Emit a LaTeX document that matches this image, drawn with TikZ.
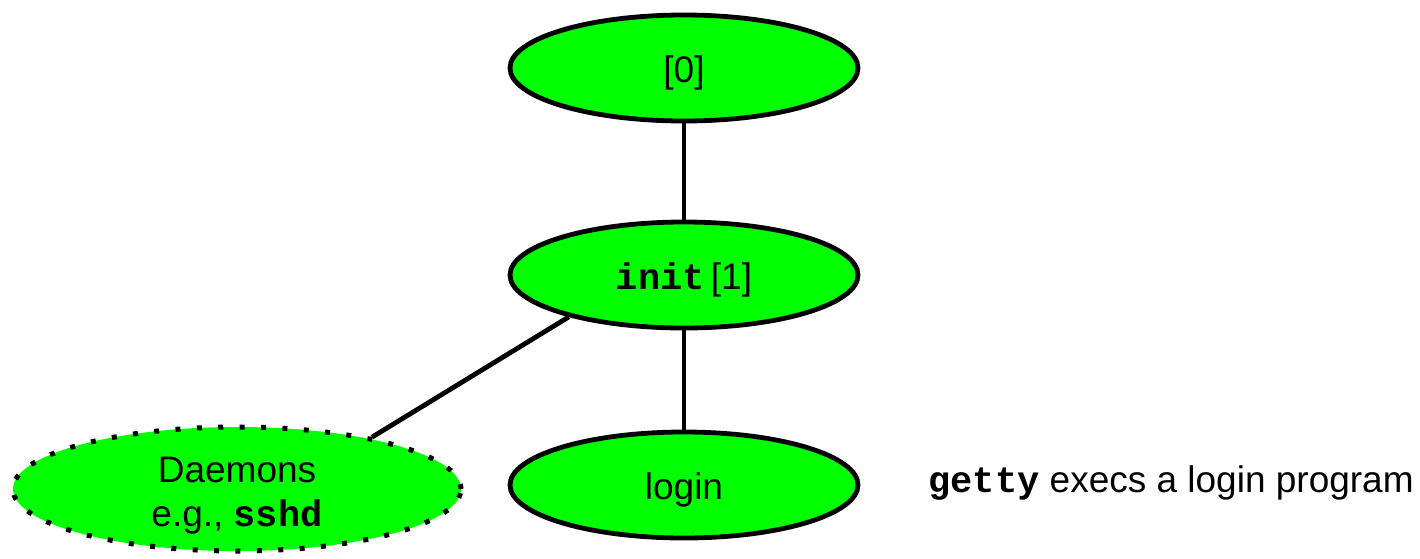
\documentclass[tikz,border=0pt]{standalone}
\usepackage{fontspec}
\setmainfont{Liberation Sans}
\setmonofont{Liberation Mono}
\usetikzlibrary{shapes.geometric}
\definecolor{procgreen}{RGB}{0,255,0}
\tikzset{
  labelfont/.style={font=\fontsize{18.5pt}{22pt}\selectfont},
  proc/.style={ellipse, draw=black, line width=2.4pt, fill=procgreen,
    inner sep=0pt, minimum width=174pt, minimum height=53pt,
    labelfont, text height=14pt, text depth=0pt},
  daemon/.style={ellipse, draw=black, fill=procgreen, inner sep=0pt,
    line width=2.5pt, dash pattern=on 2.5pt off 8.2pt,
    minimum width=224pt, minimum height=62pt},
  link/.style={line width=2.4pt}
}
\begin{document}
\begin{tikzpicture}[x=0.5pt,y=-0.5pt]
  \useasboundingbox (0,0) rectangle (1420,558);
  % process tree
  \node[proc] (p0) at (684,68) {[0]};
  \node[proc] (init) at (684,275) {\texttt{\bfseries init}\,[1]};
  \node[proc] (login) at (684,485) {login};
  \node[daemon] (daemons) at (237,489) {};
  \node[labelfont, align=center, inner sep=0pt] (daemonstext) at (237,496)
    {Daemons\\e.g., \texttt{\bfseries sshd}};
  % side note
  \node[anchor=base west, labelfont, inner sep=0pt]
    (getty) at (928,492) {\texttt{\bfseries getty} execs a login program};
  % connectors
  \draw[link] (p0) -- (init);
  \draw[link] (init) -- (login);
  \draw[link] (init.200) -- (daemons.21);
\end{tikzpicture}
\end{document}
